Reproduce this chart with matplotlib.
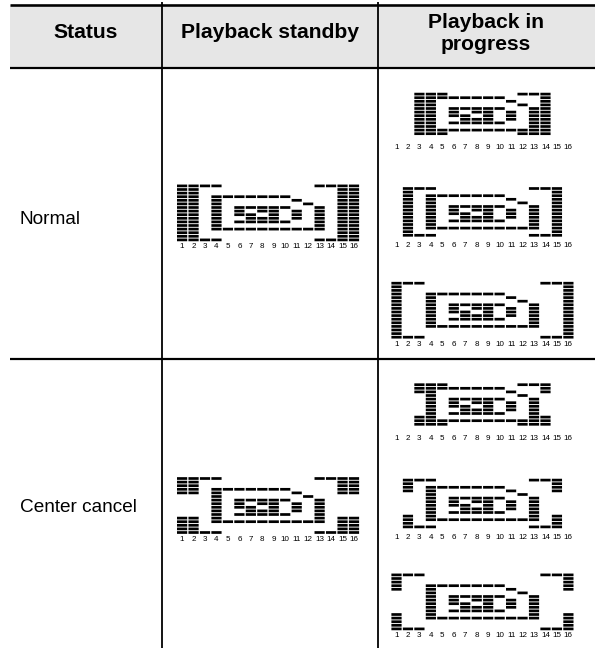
import matplotlib
matplotlib.use("Agg")
import matplotlib.pyplot as plt

# ---- data ----
HEADERS = ["Status", "Playback standby", "Playback in\nprogress"]
STATUSES = ["Normal", "Center cancel"]
COLUMN_LABELS = [str(i) for i in range(1, 17)]

ALL = list(range(16))
R1_14 = list(range(1, 15))
R2_13 = list(range(2, 14))

# fixed part of the display: column number -> lit rows (0 = top)
CORE = {
    4: [3, 4, 5, 6, 7, 8, 9, 10, 11, 12],
    5: [3, 12],
    6: [3, 6, 7, 8, 10, 12],
    7: [3, 6, 8, 9, 10, 12],
    8: [3, 6, 7, 9, 10, 12],
    9: [3, 6, 7, 8, 9, 10, 12],
    10: [3, 6, 10, 12],
    11: [4, 7, 8, 9, 12],
    12: [5, 12],
    13: [6, 7, 8, 9, 10, 11, 12],
}

NORMAL_STANDBY = {1: ALL, 2: ALL, 3: [0, 15], 4: [0, 15], 13: [0, 15], 14: [0, 15], 15: ALL, 16: ALL}
NORMAL_PLAY_1 = {3: R2_13, 4: R2_13, 5: [2, 13], 12: [2, 13], 13: [2, 13], 14: R2_13}
NORMAL_PLAY_2 = {2: R1_14, 3: [1, 14], 4: [1, 14], 13: [1, 14], 14: [1, 14], 15: R1_14}
NORMAL_PLAY_3 = {1: ALL, 2: [0, 15], 3: [0, 15], 14: [0, 15], 15: [0, 15], 16: ALL}

C0 = [0, 1, 2, 3, 4, 11, 12, 13, 14, 15]
C1 = [1, 2, 3, 4, 11, 12, 13, 14]
C2 = [2, 3, 4, 11, 12, 13]
CENTER_STANDBY = {1: C0, 2: C0, 3: [0, 15], 4: [0, 15], 13: [0, 15], 14: [0, 15], 15: C0, 16: C0}
CENTER_PLAY_1 = {3: C2, 4: R2_13, 5: [2, 13], 12: [2, 13], 13: [2, 13], 14: C2}
CENTER_PLAY_2 = {2: C1, 3: [1, 14], 4: [1, 14], 13: [1, 14], 14: [1, 14], 15: C1}
CENTER_PLAY_3 = {1: C0, 2: [0, 15], 3: [0, 15], 14: [0, 15], 15: [0, 15], 16: C0}

ICONS = [
    (NORMAL_STANDBY, 177.0, 196.7),
    (NORMAL_PLAY_1, 391.4, 97.7),
    (NORMAL_PLAY_2, 391.4, 195.7),
    (NORMAL_PLAY_3, 391.4, 294.0),
    (CENTER_STANDBY, 177.0, 489.3),
    (CENTER_PLAY_1, 391.4, 388.3),
    (CENTER_PLAY_2, 391.4, 487.3),
    (CENTER_PLAY_3, 391.4, 585.7),
]

# ---- layout ----
W, H = 595, 648
PITCH_X, SEG_W = 11.46, 10.2
PITCH_Y, SEG_H = 3.6, 2.7

plt.rcParams["font.family"] = ["Liberation Sans", "DejaVu Sans"]
fig = plt.figure(figsize=(W / 100, H / 100), dpi=100)
ax = fig.add_axes([0, 0, 1, 1])
ax.set_xlim(0, W)
ax.set_ylim(H, 0)
ax.axis("off")


def hline(y, lw):
    ax.plot([9.5, 595], [y, y], color="black", lw=lw * 0.72, solid_capstyle="butt", zorder=3)


ax.fill_between([9.5, 595], 4.5, 67.5, color="#e6e6e6", lw=0, zorder=0)
hline(4.5, 2.6)
hline(68, 2.2)
hline(359, 2.2)
for x in (162, 378):
    ax.plot([x, x], [2, H], color="black", lw=1.8 * 0.72, solid_capstyle="butt", zorder=3)

for x, y, s in zip((86, 270, 486), (33, 33, 33), HEADERS):
    ax.text(x, y, s, fontsize=15.2, fontweight="bold", ha="center", va="center", linespacing=1.2)
for y, s in zip((219, 507), STATUSES):
    ax.text(19.5, y, s, fontsize=13.7, ha="left", va="center")


def draw_icon(outer, left, r3):
    for col in range(1, 17):
        rows = sorted(set(CORE.get(col, [])) | set(outer.get(col, [])))
        x = left + (col - 1) * PITCH_X
        for r in rows:
            bars = ax.bar(x + SEG_W / 2, SEG_H, width=SEG_W, bottom=r3 + (r - 3) * PITCH_Y - SEG_H / 2,
                          color="black", lw=0, zorder=2)
            for b in bars:
                b.set_snap(False)
        ax.text(x + SEG_W / 2, r3 + 12 * PITCH_Y + 7, COLUMN_LABELS[col - 1], fontsize=5.8,
                family=["Liberation Sans Narrow", "Liberation Sans"], ha="center", va="center")


for outer, left, r3 in ICONS:
    draw_icon(outer, left, r3)

fig.savefig("out.png", dpi=100)
